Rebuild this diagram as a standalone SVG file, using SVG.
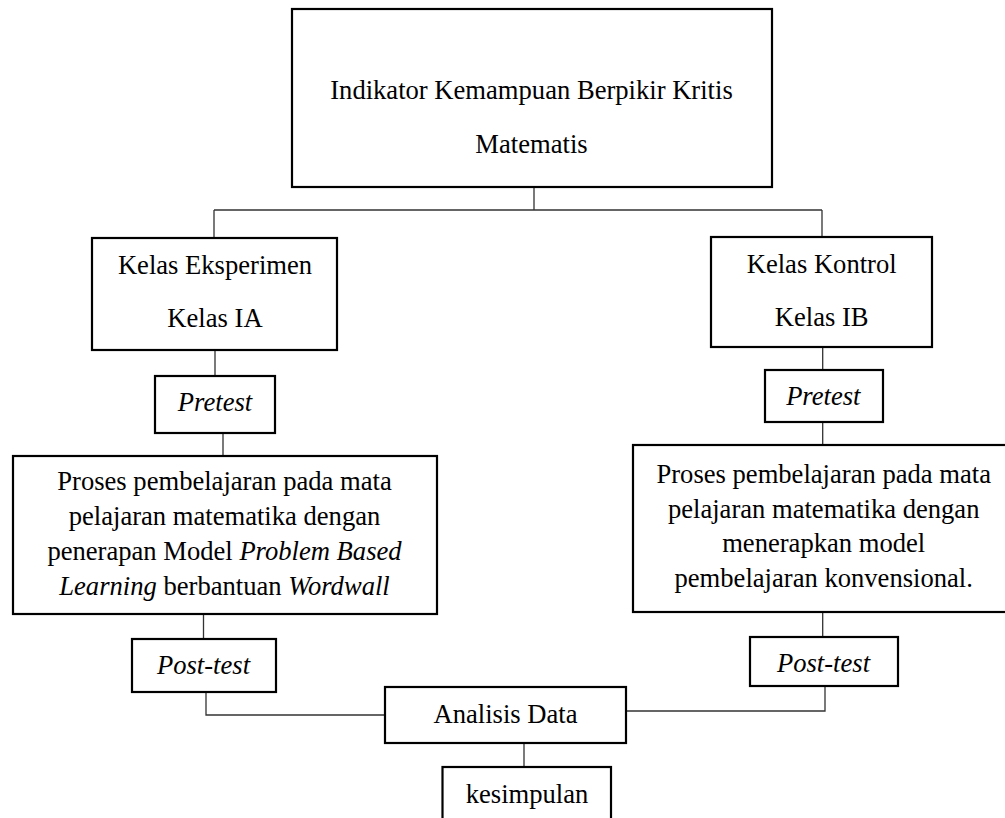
<svg xmlns="http://www.w3.org/2000/svg" width="1005" height="818" viewBox="0 0 1005 818">
<style>
.box{fill:#fff;stroke:#000;stroke-width:2.2}
.t{font-family:"Liberation Serif","Times New Roman",serif;font-size:26.6px;fill:#000;text-anchor:middle}
.i{font-style:italic}
.c{fill:none;stroke:#333;stroke-width:1.3}
</style>
<rect width="1005" height="818" fill="#fff"/>
<g id="connectors">
<path class="c" d="M534 187V210M214 210H822M214 210V238M822 210V237"/>
<path class="c" d="M215 350V376M223 433V456M203.5 614V639M206 692V715H385"/>
<path class="c" d="M822.7 347V370M822.7 422V445M822.7 612V637M825 686V711H626"/>
<path class="c" d="M524 743V767"/>
</g>
<g id="indikator">
<rect class="box" x="292" y="9" width="480" height="178"/>
<text class="t" x="531.5" y="99">Indikator Kemampuan Berpikir Kritis</text>
<text class="t" x="531.5" y="153">Matematis</text>
</g>
<g id="kelas-eksperimen">
<rect class="box" x="92" y="238" width="245" height="112"/>
<text class="t" x="215" y="274">Kelas Eksperimen</text>
<text class="t" x="215" y="327">Kelas IA</text>
</g>
<g id="pretest-eksperimen">
<rect class="box" x="155" y="376" width="120" height="57"/>
<text class="t i" x="215" y="411">Pretest</text>
</g>
<g id="proses-eksperimen">
<rect class="box" x="13" y="456" width="424" height="158"/>
<text class="t" x="224.5" y="490">Proses pembelajaran pada mata</text>
<text class="t" x="224.5" y="525">pelajaran matematika dengan</text>
<text class="t" x="224.5" y="560">penerapan Model <tspan class="i">Problem Based</tspan></text>
<text class="t" x="224.5" y="595"><tspan class="i">Learning</tspan> berbantuan <tspan class="i">Wordwall</tspan></text>
</g>
<g id="posttest-eksperimen">
<rect class="box" x="132" y="639" width="144" height="53"/>
<text class="t i" x="203.5" y="674">Post-test</text>
</g>
<g id="kelas-kontrol">
<rect class="box" x="711" y="237" width="221" height="110"/>
<text class="t" x="821.7" y="273">Kelas Kontrol</text>
<text class="t" x="821.7" y="326">Kelas IB</text>
</g>
<g id="pretest-kontrol">
<rect class="box" x="765" y="370" width="118" height="52"/>
<text class="t i" x="823.3" y="405">Pretest</text>
</g>
<g id="proses-kontrol">
<rect class="box" x="633" y="445" width="382" height="167"/>
<text class="t" x="823.7" y="483">Proses pembelajaran pada mata</text>
<text class="t" x="823.7" y="518">pelajaran matematika dengan</text>
<text class="t" x="823.7" y="552">menerapkan model</text>
<text class="t" x="823.7" y="587">pembelajaran konvensional.</text>
</g>
<g id="posttest-kontrol">
<rect class="box" x="750" y="637" width="148" height="49"/>
<text class="t i" x="823.5" y="672">Post-test</text>
</g>
<g id="analisis-data">
<rect class="box" x="385" y="687" width="241" height="56"/>
<text class="t" x="505.5" y="723">Analisis Data</text>
</g>
<g id="kesimpulan">
<rect class="box" x="442.5" y="767" width="168.5" height="60"/>
<text class="t" x="527" y="803">kesimpulan</text>
</g>
</svg>
